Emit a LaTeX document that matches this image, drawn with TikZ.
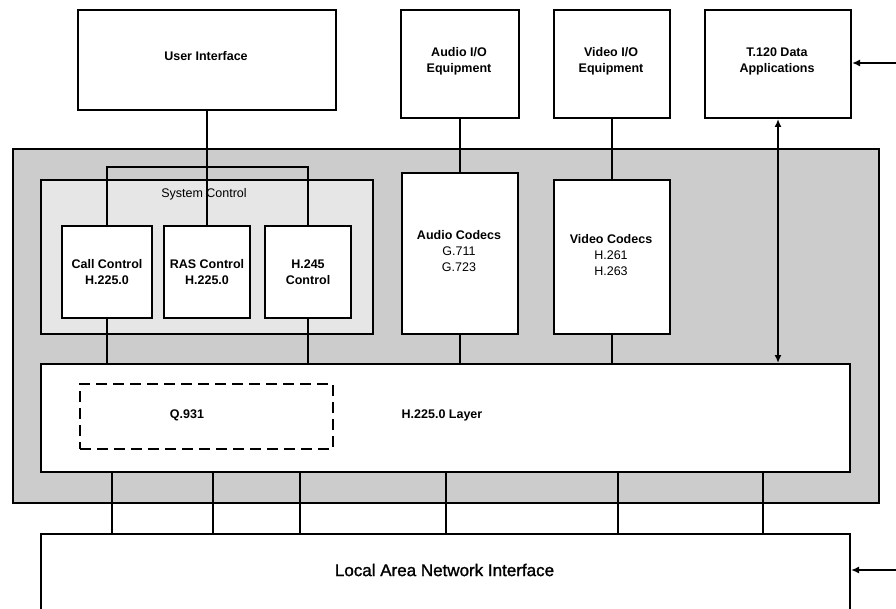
\documentclass[tikz,border=0pt]{standalone}
\usepackage{fontspec}
\setmainfont{Liberation Sans}
\newfontfamily\lanfont[FakeBold=1.3]{Liberation Sans}
\usetikzlibrary{arrows.meta}
\definecolor{outergray}{HTML}{CCCCCC}
\definecolor{innergray}{HTML}{E6E6E6}
\tikzset{
  box/.style={draw=black, line width=2pt, fill=white, rectangle, anchor=north west,
              inner sep=0pt, align=center, font=\fontsize{12.5}{16}\selectfont\bfseries},
  wire/.style={line width=2pt},
  lbl/.style={inner sep=0pt, align=center},
  boldlbl/.style={lbl, font=\fontsize{12.5}{16.5}\selectfont\bfseries},
  tip/.style={-{Latex[length=8pt,width=7pt]}},
  bitip/.style={{Latex[length=8pt,width=7pt]}-{Latex[length=8pt,width=7pt]}}
}
\begin{document}
\begin{tikzpicture}[x=1pt, y=-1pt]
\clip (0,0) rectangle (896,609);
\fill[white] (0,0) rectangle (896,609);

% terminal enclosure and system control group
\node[box, fill=outergray, minimum width=866pt, minimum height=354pt] (term) at (12,148) {};
\node[box, fill=innergray, minimum width=332pt, minimum height=154pt] (sysctl) at (40,179) {};
\node[lbl, font=\fontsize{12.5}{15}\selectfont] (sysctllbl) at (204,194) {System Control};

% external equipment
\node[box, minimum width=258pt, minimum height=100pt] (ui) at (77,9) {};
\node[boldlbl] (uitext) at (206,56) {User Interface};
\node[box, minimum width=118pt, minimum height=108pt] (aio) at (400,9) {};
\node[boldlbl] (aiotxt) at (459,61.5) {Audio I/O\\Equipment};
\node[box, minimum width=116pt, minimum height=108pt] (vio) at (553,9) {};
\node[boldlbl] (viotxt) at (611,61.5) {Video I/O\\Equipment};
\node[box, minimum width=146pt, minimum height=108pt] (t120) at (704,9) {};
\node[boldlbl] (t120txt) at (777,61.5) {T.120 Data\\Applications};

% control entities
\node[box, minimum width=90pt, minimum height=92pt] (cc) at (61,225) {Call Control\\H.225.0};
\node[box, minimum width=86pt, minimum height=92pt] (ras) at (163,225) {RAS Control\\H.225.0};
\node[box, minimum width=86pt, minimum height=92pt] (h245) at (264,225) {H.245\\Control};

% bracket joining the control entities to the user interface
\coordinate (brk) at (0,167);
\draw[wire] (cc.north) -- (cc.north |- brk) -- (h245.north |- brk) -- (h245.north);
\draw[wire] (ui.south) -- (ras.north);

% codecs
\node[box, minimum width=116pt, minimum height=161pt] (acod) at (401,172) {};
\node[lbl, font=\fontsize{12.5}{16}\selectfont] (acodtxt) at (459,251) {\textbf{Audio Codecs}\\G.711\\G.723};
\node[box, minimum width=116pt, minimum height=154pt] (vcod) at (553,179) {};
\node[lbl, font=\fontsize{12.5}{16}\selectfont] (vcodtxt) at (611,255) {\textbf{Video Codecs}\\H.261\\H.263};

\draw[wire] (aio.south) -- (acod.north);
\draw[wire] (vio.south) -- (vcod.north);

% H.225.0 layer
\node[box, minimum width=809pt, minimum height=108pt] (layer) at (40,363) {};
\node[boldlbl] (layertxt) at (442,415) {H.225.0 Layer};
\node[box, dash pattern=on 11pt off 6pt, minimum width=253pt, minimum height=65pt] (q931) at (79,383) {};
\node[boldlbl] (q931txt) at (187,415) {Q.931};

\draw[wire] (cc.south) -- (cc.south |- layer.north);
\draw[wire] (h245.south) -- (h245.south |- layer.north);
\draw[wire] (acod.south) -- (acod.south |- layer.north);
\draw[wire] (vcod.south) -- (vcod.south |- layer.north);
\draw[wire, bitip] (t120.south) -- (t120.south |- layer.north);

% local area network interface
\node[box, minimum width=809pt, minimum height=90pt] (lan) at (40,533) {};
\node[lbl, font=\fontsize{17}{20}\lanfont] (lantxt) at (444.5,570) {Local Area Network Interface};

\foreach \px [count=\i] in {112,213,300,446,618,763} {
  \coordinate (up\i) at (\px,471);
  \draw[wire] (up\i) -- (up\i |- lan.north);
}

% external inputs from the right edge
\coordinate (tin) at (896,63);
\coordinate (lin) at (896,570);
\draw[wire, tip] (tin) -- (t120.east |- tin);
\draw[wire, tip] (lin) -- (lan.east |- lin);
\end{tikzpicture}
\end{document}
